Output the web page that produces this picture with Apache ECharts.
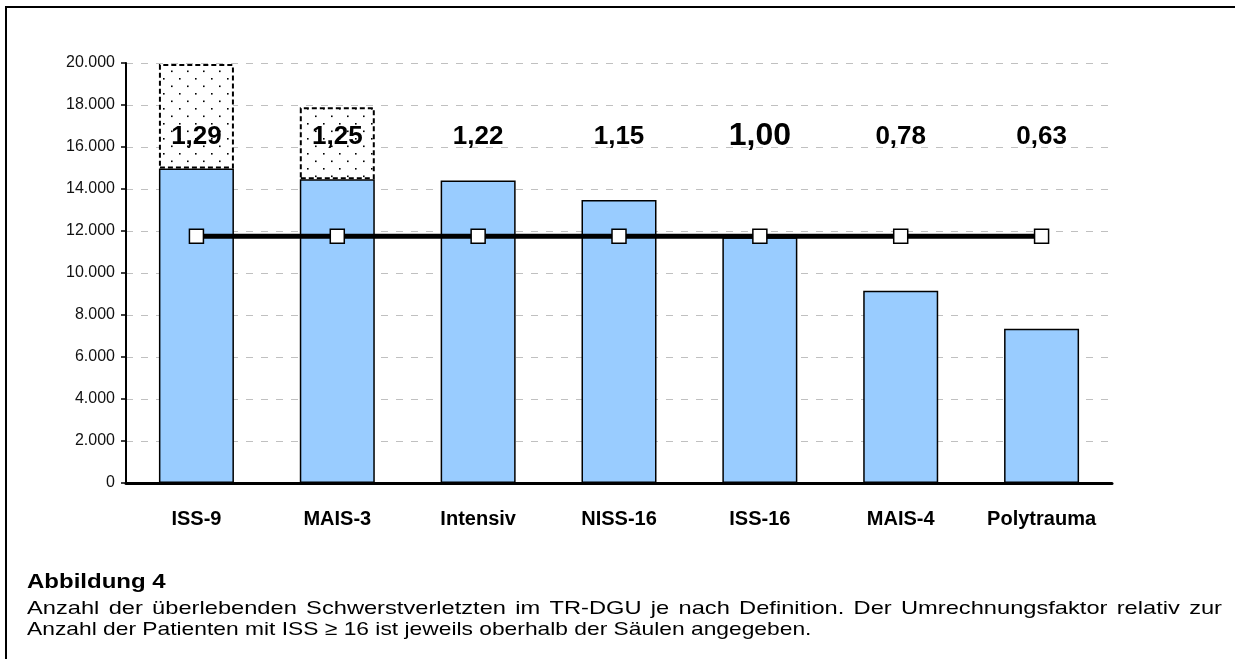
<!DOCTYPE html>
<html lang="de">
<head>
    <meta charset="UTF-8">
    <title>Abbildung 4</title>
    <style>
        html, body { margin: 0; padding: 0; background: #fff; }
    </style>
</head>
<body>
<div id="main" style="width: 1235px;height:659px;"></div>
<script src="https://cdn.jsdelivr.net/npm/echarts@6/dist/echarts.min.js"></script>
<script>
    // Kategorien und Werte
    var categories = ['ISS-9', 'MAIS-3', 'Intensiv', 'NISS-16', 'ISS-16', 'MAIS-4', 'Polytrauma'];
    var patients = [14980, 14460, 14400, 13480, 11700, 9160, 7350];
    var dottedExtra = [4970, 3430, '-', '-', '-', '-', '-'];
    var iss16Line = [11750, 11750, 11750, 11750, 11750, 11750, 11750];
    var factors = ['1,29', '1,25', '1,22', '1,15', '1,00', '0,78', '0,63'];
    var yTicks = [0, 2000, 4000, 6000, 8000, 10000, 12000, 14000, 16000, 18000, 20000];

    var FONT = '"Liberation Sans", Arial, Helvetica, sans-serif';

    // Punktraster fuer die gestrichelten Aufsaetze
    var dots = document.createElement('canvas');
    dots.width = 16;
    dots.height = 15;
    var dctx = dots.getContext('2d');
    dctx.fillStyle = '#fff';
    dctx.fillRect(0, 0, 16, 15);
    dctx.fillStyle = '#000';
    dctx.fillRect(3, 3, 1.6, 1.6);
    dctx.fillRect(11, 10.5, 1.6, 1.6);

    function deNum(v) {
        return String(v).replace(/\B(?=(\d{3})+(?!\d))/g, '.');
    }

    // Bildunterschrift, erste Zeile im Blocksatz
    var capScale = 1.2;
    var line1Scale = 1.245;
    var capLeft = 27, capRight = 1222;
    var line1 = 'Anzahl der überlebenden Schwerstverletzten im TR-DGU je nach Definition. Der Umrechnungsfaktor relativ zur';
    var line2 = 'Anzahl der Patienten mit ISS ≥ 16 ist jeweils oberhalb der Säulen angegeben.';
    var mctx = document.createElement('canvas').getContext('2d');
    mctx.font = '19px ' + FONT;
    var words = line1.split(' ');
    var widths = words.map(function (w) { return mctx.measureText(w).width * line1Scale; });
    var total = widths.reduce(function (a, b) { return a + b; }, 0);
    var gap = (capRight - capLeft - total) / (words.length - 1);

    var graphics = [
        {
            type: 'polyline',
            shape: {points: [[6, 659], [6, 7], [1235, 7]]},
            style: {stroke: '#000', lineWidth: 2, fill: null},
            silent: true
        },
        {
            type: 'text',
            x: capLeft, y: 582, scaleX: capScale,
            style: {text: 'Abbildung 4', font: 'bold 20px ' + FONT, fill: '#000', textVerticalAlign: 'middle'}
        },
        {
            type: 'text',
            x: capLeft, y: 630, scaleX: capScale,
            style: {text: line2, font: '19px ' + FONT, fill: '#000', textVerticalAlign: 'middle'}
        }
    ];
    var cx = capLeft;
    words.forEach(function (w, i) {
        graphics.push({
            type: 'text',
            x: cx, y: 609, scaleX: line1Scale,
            style: {text: w, font: '19px ' + FONT, fill: '#000', textVerticalAlign: 'middle'}
        });
        cx += widths[i] + gap;
    });

    var myChart = echarts.init(document.getElementById('main'));

    var option = {
        animation: false,
        backgroundColor: '#fff',
        grid: {left: 126, right: 123, top: 63, bottom: 176},
        xAxis: {
            type: 'category',
            data: categories,
            axisLine: {lineStyle: {color: '#000', width: 3}},
            axisTick: {show: false},
            axisLabel: {
                interval: 0,
                margin: 26,
                color: '#000',
                fontFamily: FONT,
                fontWeight: 'bold',
                fontSize: 20
            }
        },
        yAxis: {
            type: 'value',
            min: yTicks[0],
            max: yTicks[yTicks.length - 1],
            interval: yTicks[1] - yTicks[0],
            axisLine: {show: true, lineStyle: {color: '#000', width: 2}},
            axisTick: {show: true, length: 5, lineStyle: {color: '#000', width: 1.5}},
            axisLabel: {
                margin: 11,
                color: '#111',
                fontFamily: FONT,
                fontSize: 16,
                formatter: deNum
            },
            splitLine: {
                lineStyle: {color: '#c0c0c0', width: 1, type: [7, 8]}
            }
        },
        series: [
            {
                name: 'Patienten',
                type: 'bar',
                stack: 'a',
                barWidth: 75,
                data: patients,
                itemStyle: {color: '#99ccff', borderColor: '#000', borderWidth: 1.5}
            },
            {
                name: 'Zusatz',
                type: 'bar',
                stack: 'a',
                barWidth: 75,
                data: dottedExtra,
                itemStyle: {
                    color: {image: dots, repeat: 'repeat'},
                    borderColor: '#000',
                    borderWidth: 2,
                    borderType: [5, 3]
                }
            },
            {
                name: 'ISS >= 16',
                type: 'line',
                data: iss16Line,
                z: 5,
                symbol: 'rect',
                symbolSize: 14,
                lineStyle: {color: '#000', width: 5},
                itemStyle: {color: '#fff', borderColor: '#000', borderWidth: 1.5},
                label: {
                    show: true,
                    position: 'top',
                    distance: 79,
                    fontFamily: FONT,
                    formatter: function (p) {
                        var f = factors[p.dataIndex];
                        return f === '1,00' ? '{big|' + f + '}' : '{n|' + f + '}';
                    },
                    rich: {
                        n: {fontSize: 26, fontWeight: 'bold', color: '#000', fontFamily: FONT},
                        big: {fontSize: 32, fontWeight: 'bold', color: '#000', fontFamily: FONT, padding: [0, 0, -3, 0]}
                    }
                }
            }
        ],
        graphic: graphics
    };

    myChart.setOption(option);
</script>
</body>
</html>
